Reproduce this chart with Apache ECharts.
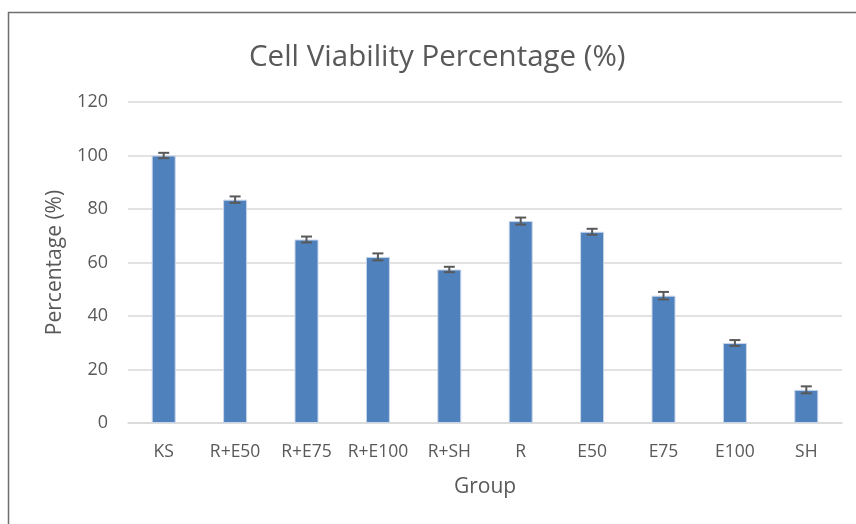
<!DOCTYPE html>
<html><head><meta charset="utf-8">
<script src="https://cdn.jsdelivr.net/npm/echarts@6/dist/echarts.min.js"></script>
<style>html,body{margin:0;padding:0;background:#fff}#c{width:856px;height:524px}</style>
</head><body><div id="c"></div>
<script>
var categories = ['KS','R+E50','R+E75','R+E100','R+SH','R','E50','E75','E100','SH'];
var values = [100, 83.5, 68.6, 62.1, 57.4, 75.5, 71.5, 47.6, 29.9, 12.4];
var errors = [1.0, 1.2, 1.1, 1.3, 1.0, 1.3, 1.1, 1.4, 1.1, 1.3];
var yTicks = [0, 20, 40, 60, 80, 100, 120];

var chart = echarts.init(document.getElementById('c'));
var font = 'Open Sans';
var gray = '#595959';
chart.setOption({
  animation: false,
  backgroundColor: '#fff',
  title: {
    text: 'Cell Viability Percentage (%)', left: 244, top: 38,
    textStyle: { fontFamily: font, fontSize: 29.5, fontWeight: 'normal', color: gray }
  },
  graphic: [{
    type: 'rect', silent: true,
    shape: { x: 8.5, y: 12.5, width: 900, height: 600 },
    style: { fill: 'none', stroke: '#6e6e6e', lineWidth: 1.5 }
  }],
  grid: { left: 128, right: 14, top: 102, bottom: 101 },
  xAxis: {
    type: 'category', data: categories,
    name: 'Group', nameLocation: 'middle', nameGap: 54,
    nameTextStyle: { fontFamily: font, fontSize: 21, color: gray },
    axisLine: { lineStyle: { color: '#d9d9d9', width: 1.5 } },
    axisTick: { show: false },
    axisLabel: { interval: 0, fontFamily: font, fontSize: 17.5, color: gray, margin: 20 }
  },
  yAxis: {
    type: 'value', min: yTicks[0], max: yTicks[yTicks.length - 1], interval: 20,
    name: 'Percentage (%)', nameLocation: 'middle', nameGap: 62,
    nameTextStyle: { fontFamily: font, fontSize: 21, color: gray },
    axisLine: { show: false }, axisTick: { show: false },
    axisLabel: { fontFamily: font, fontSize: 18, color: gray, margin: 20 },
    splitLine: { lineStyle: { color: '#d9d9d9', width: 1.5 } }
  },
  series: [{
    type: 'bar', data: values, barWidth: 24,
    itemStyle: { color: '#4f81bd', borderColor: '#c9d6ea', borderWidth: 1 }
  }, {
    type: 'custom', z: 5,
    data: values.map(function (v, i) { return [i, v - errors[i], v + errors[i]]; }),
    renderItem: function (params, api) {
      var lo = api.coord([api.value(0), api.value(1)]);
      var hi = api.coord([api.value(0), api.value(2)]);
      var hw = 5.5;
      var st = { stroke: '#595959', lineWidth: 2 };
      return { type: 'group', children: [
        { type: 'line', shape: { x1: lo[0], y1: lo[1], x2: hi[0], y2: hi[1] }, style: st },
        { type: 'line', shape: { x1: lo[0] - hw, y1: lo[1], x2: lo[0] + hw, y2: lo[1] }, style: st },
        { type: 'line', shape: { x1: hi[0] - hw, y1: hi[1], x2: hi[0] + hw, y2: hi[1] }, style: st }
      ]};
    }
  }]
});
</script></body></html>
